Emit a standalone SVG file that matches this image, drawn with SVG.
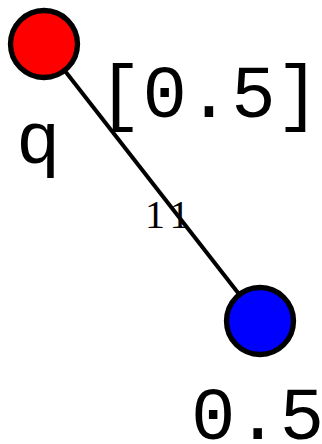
<svg xmlns="http://www.w3.org/2000/svg" width="322" height="444" viewBox="0 0 322 444">
<style>
.node{stroke:#000;stroke-width:5.3}
.mono{font-family:"Liberation Mono","DejaVu Sans Mono",monospace;font-size:74px;fill:#000}
.edge{stroke:#000;stroke-width:4;fill:none}
.elabel{font-family:"Liberation Serif","Times New Roman",serif;font-size:40px;fill:#000}
</style>
<rect width="322" height="444" fill="#fff"/>
<g id="edges">
<line class="edge" x1="44" y1="44" x2="260" y2="321"/>
<text class="elabel" x="145" y="228" letter-spacing="6">11</text>
</g>
<g id="node-q">
<circle class="node" cx="44" cy="44" r="33.5" fill="#f00"/>
<text class="mono" x="98" y="117">[0.5]</text>
<text class="mono" x="16" y="163">q</text>
</g>
<g id="node-b">
<circle class="node" cx="260" cy="321" r="33.5" fill="#00f"/>
<text class="mono" x="191" y="439">0.5</text>
</g>
</svg>
